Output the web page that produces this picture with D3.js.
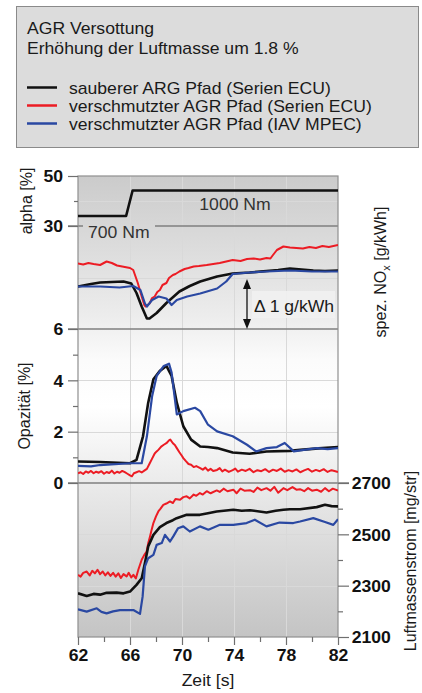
<!DOCTYPE html>
<html>
<head>
<meta charset="utf-8">
<script src="https://cdn.jsdelivr.net/npm/d3@7"></script>
<style>
  body { margin: 0; background: #fff; }
  svg { font-family: "Liberation Sans", Arial, sans-serif; }
</style>
</head>
<body>
<svg id="chart" width="422" height="693"></svg>
<script>
// ---- data ----
var timeTicks = [62, 66, 70, 74, 78, 82];
var alphaTicks = [50, 30, 6];
var opaTicks = [4, 2, 0];
var luftTicks = [2700, 2500, 2300, 2100];

var legendTitle = ["AGR Versottung", "Erhöhung der Luftmasse um 1.8 %"];
var seriesNames = ["sauberer ARG Pfad (Serien ECU)", "verschmutzter AGR Pfad (Serien ECU)", "verschmutzter AGR Pfad  (IAV MPEC)"];
var seriesColors = ["#111111", "#ec1c24", "#2a48a2"];

// alpha [%] (torque step 700 -> 1000 Nm)
var alpha = [[62, 34], [65.7, 34], [66.2, 44.2], [82, 44.2]];

// spez. NOx [g/kWh]
var noxClean = [[62, 2.85], [63, 2.9], [63.7, 2.93], [65.5, 2.95], [66.1, 2.91], [66.5, 2.72], [66.9, 2.45], [67.3, 2.21], [67.5, 2.21],
  [68.05, 2.32], [68.8, 2.52], [69.8, 2.75], [70.6, 2.86], [71.4, 2.95], [72.7, 3.05], [73.9, 3.11], [75.2, 3.13], [76.5, 3.16],
  [77.4, 3.18], [78.3, 3.21], [79.2, 3.19], [80.1, 3.17], [81, 3.16], [82, 3.17]];
var noxDirty = [[62, 3.31], [62.4, 3.29], [62.8, 3.32], [63.2, 3.3], [63.7, 3.28], [64.2, 3.35], [64.6, 3.32], [65, 3.27], [65.4, 3.25],
  [65.8, 3.23], [66, 3.22], [66.25, 3.18], [66.6, 2.92], [66.9, 2.65], [67.1, 2.48], [67.2, 2.45], [67.5, 2.51], [67.7, 2.62],
  [67.9, 2.65], [68.1, 2.74], [68.3, 2.78], [68.5, 2.88], [68.8, 2.92], [69, 3.02], [69.3, 3.08], [69.5, 3.1], [69.8, 3.15],
  [70.2, 3.2], [70.5, 3.22], [70.9, 3.25], [71.3, 3.26], [71.9, 3.28], [72.4, 3.3], [72.9, 3.32], [73.4, 3.35], [73.9, 3.38],
  [74.5, 3.36], [75, 3.4], [75.5, 3.41], [76, 3.39], [76.5, 3.42], [76.8, 3.41], [77, 3.48], [77.3, 3.58], [77.8, 3.65],
  [78.3, 3.63], [78.8, 3.62], [79.3, 3.61], [79.8, 3.64], [80.3, 3.62], [80.8, 3.66], [81.3, 3.64], [82, 3.68]];
var noxMpec = [[62, 2.85], [63.7, 2.85], [65.2, 2.83], [66.25, 2.86], [66.8, 2.78], [67.15, 2.51], [67.3, 2.45], [67.7, 2.58],
  [68.2, 2.65], [68.8, 2.61], [69.2, 2.48], [69.6, 2.58], [70.4, 2.65], [71.4, 2.71], [72.7, 2.81], [73.4, 2.95], [73.9, 3.1],
  [75.2, 3.13], [76.5, 3.15], [78.3, 3.17], [80, 3.15], [82, 3.15]];

// Opazität [%]
var opaClean = [[62, 0.84], [63.7, 0.82], [66, 0.77], [66.5, 0.9], [67, 1.82], [67.4, 3.13], [67.8, 4.04], [68.3, 4.37], [68.8, 4.56],
  [69.2, 4.17], [69.6, 3.13], [70.1, 2.21], [70.7, 1.69], [71.4, 1.42], [72, 1.4], [72.7, 1.36], [73.9, 1.19], [75.2, 1.14],
  [76.5, 1.23], [78.3, 1.25], [79.1, 1.29], [80.5, 1.35], [82, 1.4]];
var opaDirty = [[62, 0.38], [62.2, 0.42], [62.4, 0.35], [62.6, 0.45], [62.8, 0.4], [63, 0.47], [63.2, 0.38], [63.4, 0.44], [63.6, 0.4],
  [63.8, 0.46], [64, 0.36], [64.2, 0.43], [64.4, 0.39], [64.6, 0.48], [64.8, 0.37], [65, 0.44], [65.2, 0.4], [65.4, 0.47],
  [65.6, 0.42], [65.8, 0.36], [66, 0.3], [66.15, 0.26], [66.3, 0.38], [66.5, 0.42], [66.7, 0.46], [66.9, 0.41], [67.1, 0.48],
  [67.3, 0.55], [67.5, 0.75], [67.7, 0.95], [67.9, 1.15], [68.05, 1.23], [68.2, 1.3], [68.4, 1.42], [68.6, 1.49], [68.8, 1.55],
  [69, 1.66], [69.1, 1.69], [69.3, 1.55], [69.45, 1.48], [69.6, 1.36], [69.8, 1.2], [70, 1.05], [70.1, 0.97], [70.3, 0.85],
  [70.5, 0.74], [70.7, 0.71], [70.9, 0.62], [71.1, 0.66], [71.4, 0.58], [71.6, 0.52], [71.8, 0.6], [72, 0.48], [72.2, 0.55],
  [72.4, 0.47], [72.7, 0.51], [72.9, 0.58], [73.1, 0.45], [73.3, 0.52], [73.6, 0.43], [73.9, 0.5], [74.1, 0.56], [74.3, 0.44],
  [74.6, 0.52], [74.9, 0.47], [75.2, 0.55], [75.5, 0.42], [75.8, 0.5], [76.1, 0.46], [76.4, 0.54], [76.7, 0.43], [77, 0.52],
  [77.3, 0.47], [77.6, 0.56], [77.9, 0.44], [78.2, 0.5], [78.5, 0.45], [78.8, 0.53], [79.1, 0.42], [79.4, 0.49], [79.7, 0.55],
  [80, 0.44], [80.3, 0.51], [80.6, 0.46], [80.9, 0.54], [81.2, 0.43], [81.5, 0.5], [81.8, 0.46], [82, 0.43]];
var opaMpec = [[62, 0.67], [63, 0.65], [63.7, 0.7], [66, 0.77], [66.9, 0.77], [67.3, 1.82], [67.7, 3.38], [68.05, 4.17], [68.6, 4.56],
  [69, 4.65], [69.2, 4.3], [69.6, 2.67], [70.1, 2.8], [71, 2.93], [71.4, 2.8], [72, 2.27], [72.7, 2.01], [73.9, 1.82],
  [75, 1.49], [75.7, 1.23], [76.5, 1.36], [77.3, 1.4], [77.9, 1.56], [78.6, 1.23], [79.5, 1.3], [80.4, 1.36], [81.2, 1.32], [82, 1.36]];

// Luftmassenstrom [mg/str]
var luftClean = [[62, 2270], [62.67, 2260], [63.2, 2268], [63.7, 2265], [64.2, 2272], [64.97, 2273], [65.5, 2270], [66, 2277],
  [66.5, 2303], [66.9, 2329], [67.15, 2388], [67.4, 2453], [67.8, 2498], [68.3, 2528], [68.8, 2544], [69.3, 2555], [69.59, 2563],
  [70.36, 2576], [71.38, 2576], [72, 2582], [72.67, 2589], [73.95, 2596], [74.6, 2592], [75.23, 2594], [76.5, 2585], [77.2, 2592],
  [77.8, 2596], [78.3, 2598], [79.08, 2598], [80.36, 2606], [81, 2615], [81.5, 2610], [82, 2609]];
var luftDirty = [[62, 2342], [62.2, 2335], [62.4, 2350], [62.67, 2355], [62.9, 2340], [63.1, 2358], [63.3, 2348], [63.5, 2362],
  [63.7, 2345], [63.9, 2355], [64.1, 2340], [64.3, 2352], [64.5, 2338], [64.7, 2350], [64.9, 2335], [65.1, 2348], [65.3, 2330],
  [65.5, 2345], [65.74, 2336], [65.9, 2350], [66.1, 2332], [66.26, 2342], [66.45, 2328], [66.64, 2362], [66.9, 2401], [67.1, 2420],
  [67.28, 2433], [67.4, 2465], [67.54, 2492], [67.65, 2515], [67.8, 2544], [68, 2570], [68.18, 2589], [68.35, 2600], [68.56, 2615],
  [68.8, 2620], [69.08, 2628], [69.3, 2622], [69.5, 2638], [69.85, 2635], [70.1, 2645], [70.36, 2648], [70.6, 2640], [70.9, 2655],
  [71.1, 2650], [71.38, 2661], [71.6, 2655], [71.9, 2668], [72.2, 2660], [72.67, 2671], [72.9, 2665], [73.2, 2678], [73.5, 2668],
  [73.95, 2674], [74.2, 2660], [74.5, 2678], [74.8, 2670], [75.23, 2672], [75.5, 2665], [75.8, 2682], [76.1, 2672], [76.5, 2680],
  [76.8, 2670], [77.1, 2685], [77.4, 2662], [77.8, 2680], [78.1, 2672], [78.5, 2684], [78.8, 2674], [79.08, 2676], [79.4, 2668],
  [79.7, 2680], [80, 2670], [80.36, 2674], [80.7, 2666], [81, 2680], [81.3, 2668], [81.6, 2678], [82, 2671]];
var luftMpec = [[62, 2208], [62.67, 2199], [63.44, 2212], [63.8, 2198], [64.2, 2192], [64.7, 2200], [65.23, 2205], [66.26, 2205],
  [66.77, 2190], [66.97, 2257], [67.15, 2375], [67.4, 2407], [67.8, 2420], [68.05, 2459], [68.44, 2466], [68.69, 2498], [69.08, 2472],
  [69.33, 2492], [69.7, 2524], [70.1, 2531], [70.6, 2511], [71.38, 2531], [72.03, 2518], [72.92, 2537], [73.95, 2537], [74.97, 2544],
  [75.6, 2557], [76.5, 2531], [77.5, 2546], [78.56, 2544], [79.08, 2550], [80.1, 2563], [81, 2548], [81.64, 2537], [82, 2559]];

// ---- layout ----
var svg = d3.select("#chart");
var plotL = 78, plotR = 338, plotT = 176, plotB = 637;
var stretch = "scale(1.1,1)";
var fontCol = "#1a1a1a";

var x = d3.scaleLinear().domain([62, 82]).range([plotL, plotR]);
var yAlpha = d3.scaleLinear().domain([6, 30, 50]).range([329, 226, plotT]);
var yNox = d3.scaleLinear().domain([2, 3]).range([329, 279]);
var yOpa = d3.scaleLinear().domain([0, 6]).range([483, 329]);
var yLuft = d3.scaleLinear().domain([2100, 2700]).range([plotB, 483]);

// legend box
svg.append("rect")
  .attr("x", 16.5).attr("y", 6.5).attr("width", 402).attr("height", 141)
  .attr("fill", "#dcdcdc").attr("stroke", "#8a8a8a");

legendTitle.forEach(function(t, i) {
  svg.append("text")
    .attr("transform", "translate(27," + (34 + i * 19.5) + ") " + stretch)
    .attr("font-size", 16).attr("fill", fontCol).text(t);
});

seriesNames.forEach(function(name, i) {
  var by = 94 + i * 18;
  svg.append("line")
    .attr("x1", 27).attr("x2", 57).attr("y1", by - 6.5).attr("y2", by - 6.5)
    .attr("stroke", seriesColors[i]).attr("stroke-width", 2.5);
  svg.append("text")
    .attr("transform", "translate(69," + by + ") " + stretch)
    .attr("font-size", 16).attr("fill", fontCol).text(name);
});

// plot background gradient
var defs = svg.append("defs");
var grad = defs.append("linearGradient").attr("id", "bg")
  .attr("gradientUnits", "userSpaceOnUse")
  .attr("x1", 0).attr("x2", 0).attr("y1", plotT).attr("y2", plotB);
[[0, "#cbcbcb"], [0.3, "#ececec"], [0.4, "#fbfbfb"], [0.5, "#ffffff"], [0.62, "#f0f0f0"], [1, "#c4c4c4"]].forEach(function(s) {
  grad.append("stop").attr("offset", s[0]).attr("stop-color", s[1]);
});
defs.append("clipPath").attr("id", "plotclip").append("rect")
  .attr("x", plotL).attr("y", plotT).attr("width", plotR - plotL).attr("height", plotB - plotT);

svg.append("rect")
  .attr("x", plotL).attr("y", plotT).attr("width", plotR - plotL).attr("height", plotB - plotT)
  .attr("fill", "url(#bg)");

// grid
var grid = svg.append("g").attr("stroke", "#d9d9d9").attr("stroke-width", 1);
[66, 70, 74, 78].forEach(function(t) {
  grid.append("line").attr("x1", x(t) + 0.5).attr("x2", x(t) + 0.5).attr("y1", plotT).attr("y2", plotB);
});
[yAlpha(40), yAlpha(18), yOpa(2), yOpa(4), yLuft(2500), yLuft(2300)].forEach(function(yy) {
  grid.append("line").attr("x1", plotL).attr("x2", plotR).attr("y1", Math.round(yy) + 0.5).attr("y2", Math.round(yy) + 0.5);
});

// panel separators
var sep = svg.append("g").attr("stroke", "#7f7f7f").attr("stroke-width", 1.3);
sep.append("line").attr("x1", 68).attr("x2", plotR).attr("y1", yAlpha(30)).attr("y2", yAlpha(30));
sep.append("line").attr("x1", 68).attr("x2", plotR).attr("y1", yAlpha(6)).attr("y2", yAlpha(6));
sep.append("line").attr("x1", 68).attr("x2", 349).attr("y1", yOpa(0)).attr("y2", yOpa(0));

// frame
svg.append("rect")
  .attr("x", plotL).attr("y", plotT).attr("width", plotR - plotL).attr("height", plotB - plotT)
  .attr("fill", "none").attr("stroke", "#8f8f8f").attr("stroke-width", 1.2);

// axes
function styleAxis(g) {
  g.select(".domain").remove();
  g.selectAll("line").attr("stroke", "#6f6f6f").attr("stroke-width", 1.2);
  g.selectAll("text")
    .attr("font-size", 16).attr("font-weight", "bold").attr("fill", "#111")
    .attr("font-family", "Liberation Sans, Arial, sans-serif");
}
var fmt = d3.format("d");

var ax1 = svg.append("g").attr("transform", "translate(" + plotL + ",0)")
  .call(d3.axisLeft(yAlpha).tickValues(alphaTicks).tickFormat(fmt).tickSize(10).tickPadding(0));
var ax2 = svg.append("g").attr("transform", "translate(" + plotL + ",0)")
  .call(d3.axisLeft(yOpa).tickValues(opaTicks).tickFormat(fmt).tickSize(10).tickPadding(0));
[ax1, ax2].forEach(function(g) {
  styleAxis(g);
  g.selectAll("text").attr("x", -13.5).attr("dy", "0.36em").attr("transform", stretch);
});
var axMinor = svg.append("g").attr("transform", "translate(" + plotL + ",0)")
  .call(d3.axisLeft(yOpa).tickValues([1, 3, 5]).tickSize(5).tickFormat(""));
styleAxis(axMinor);
var axMinorA = svg.append("g").attr("transform", "translate(" + plotL + ",0)")
  .call(d3.axisLeft(yAlpha).tickValues([40]).tickSize(4).tickFormat(""));
styleAxis(axMinorA);

var axR = svg.append("g").attr("transform", "translate(" + plotR + ",0)")
  .call(d3.axisRight(yLuft).tickValues(luftTicks).tickFormat(fmt).tickSize(11).tickPadding(0));
styleAxis(axR);
axR.selectAll("text").attr("x", 12.5).attr("dy", "0.36em").attr("transform", stretch);
var axRMinor = svg.append("g").attr("transform", "translate(" + plotR + ",0)")
  .call(d3.axisRight(yLuft).tickValues([2600, 2400, 2200]).tickSize(5).tickFormat(""));
styleAxis(axRMinor);

var axB = svg.append("g").attr("transform", "translate(0," + plotB + ")")
  .call(d3.axisBottom(x).tickValues(timeTicks).tickFormat(fmt).tickSize(8).tickPadding(0));
styleAxis(axB);
axB.selectAll("text").attr("y", 13).attr("dy", "0.71em").attr("transform", stretch);
var axBMinor = svg.append("g").attr("transform", "translate(0," + plotB + ")")
  .call(d3.axisBottom(x).tickValues([64, 68, 72, 76, 80]).tickSize(5).tickFormat(""));
styleAxis(axBMinor);

// axis titles
function vlabel(cx, cy, parts) {
  var t = svg.append("text")
    .attr("transform", "translate(" + cx + "," + cy + ") rotate(-90)")
    .attr("text-anchor", "middle").attr("font-size", 16).attr("fill", fontCol);
  parts.forEach(function(p) {
    var s = t.append("tspan").text(p[0]);
    if (p[1]) s.attr("font-size", 11).attr("dy", 4);
    if (p[2]) s.attr("dy", -4);
  });
}
vlabel(32, 201, [["alpha [%]"]]);
vlabel(30, 406, [["Opazität [%]"]]);
vlabel(386, 272, [["spez. NO"], ["x", true], [" [g/kWh]", false, true]]);
vlabel(416, 561, [["Luftmassenstrom [mg/str]"]]);

svg.append("text")
  .attr("transform", "translate(208,686) " + stretch)
  .attr("text-anchor", "middle").attr("font-size", 16).attr("fill", fontCol)
  .text("Zeit [s]");

// annotations inside top panel
svg.append("rect")
  .attr("x", 83).attr("y", yAlpha(30) - 2).attr("width", 72).attr("height", 4)
  .attr("fill", "url(#bg)");
svg.append("text")
  .attr("transform", "translate(88,238) " + stretch)
  .attr("font-size", 16).attr("fill", "#333").text("700 Nm");
svg.append("text")
  .attr("transform", "translate(235,210) " + stretch)
  .attr("text-anchor", "middle").attr("font-size", 16).attr("fill", "#333").text("1000 Nm");

// lines
var plot = svg.append("g").attr("clip-path", "url(#plotclip)");
function drawLine(data, yScale, color, w) {
  var line = d3.line().x(function(d) { return x(d[0]); }).y(function(d) { return yScale(d[1]); });
  plot.append("path").datum(data)
    .attr("d", line).attr("fill", "none")
    .attr("stroke", color).attr("stroke-width", w)
    .attr("stroke-linejoin", "round");
}
drawLine(alpha, yAlpha, seriesColors[0], 2.6);
drawLine(noxDirty, yNox, seriesColors[1], 2);
drawLine(noxClean, yNox, seriesColors[0], 2.6);
drawLine(noxMpec, yNox, seriesColors[2], 2.2);
drawLine(opaDirty, yOpa, seriesColors[1], 2);
drawLine(opaClean, yOpa, seriesColors[0], 2.6);
drawLine(opaMpec, yOpa, seriesColors[2], 2.2);
drawLine(luftDirty, yLuft, seriesColors[1], 2);
drawLine(luftClean, yLuft, seriesColors[0], 2.6);
drawLine(luftMpec, yLuft, seriesColors[2], 2.2);

// delta NOx annotation
var arrowX = 247;
svg.append("rect")
  .attr("x", 252).attr("y", 291).attr("width", 83).attr("height", 27)
  .attr("fill", "#f1f1f1").attr("opacity", 0.85);
svg.append("line")
  .attr("x1", arrowX).attr("x2", arrowX).attr("y1", yNox(3) + 8).attr("y2", yNox(2) - 8)
  .attr("stroke", "#111").attr("stroke-width", 1.3);
svg.append("path")
  .attr("d", "M" + arrowX + "," + yNox(3) + "l-4,10h8z M" + arrowX + "," + yNox(2) + "l-4,-10h8z")
  .attr("fill", "#111");
svg.append("text")
  .attr("transform", "translate(254,312) " + stretch)
  .attr("font-size", 16).attr("fill", fontCol).text("Δ 1 g/kWh");
</script>
</body>
</html>
